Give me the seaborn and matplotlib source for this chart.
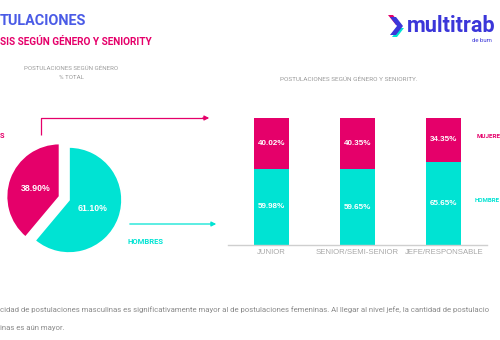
import matplotlib
matplotlib.use("Agg")
import matplotlib.pyplot as plt
import seaborn as sns
import pandas as pd
from matplotlib.patches import Polygon

# ---- data ----
pie_values = [61.10, 38.90]          # hombres, mujeres

categories = ["JUNIOR", "SENIOR/SEMI-SENIOR", "JEFE/RESPONSABLE"]
hombres = [59.98, 59.65, 65.65]
mujeres = [40.02, 40.35, 34.35]

title = "TULACIONES"
subtitle = "SIS SEGÚN GÉNERO Y SENIORITY"
pie_title = "POSTULACIONES SEGÚN GÉNERO\n% TOTAL"
bar_title = "POSTULACIONES SEGÚN GÉNERO Y SENIORITY."
footer1 = ("cidad de postulaciones masculinas es significativamente mayor al de postulaciones "
           "femeninas. Al llegar al nivel jefe, la cantidad de postulacio")
footer2 = "inas es aún mayor."

PINK = "#E5006A"
TEAL = "#00E3D3"
BLUE = "#4A5BE6"
LOGO = "#3B36D9"
GRAY = "#9a9a9a"

sns.set_theme(style="white")
plt.rcParams["font.family"] = ["DejaVu Sans"]

W, H = 500, 340
fig = plt.figure(figsize=(5, 3.4), dpi=100)
fig.patch.set_facecolor("white")

def fx(px):
    return px / W

def fy(py):  # image y (top origin) -> figure fraction
    return 1 - py / H

# overlay axes in pixel coordinates for decorations
ov = fig.add_axes([0, 0, 1, 1])
ov.set_xlim(0, W)
ov.set_ylim(H, 0)
ov.axis("off")
ov.patch.set_alpha(0)

RB = ["Roboto", "DejaVu Sans"]

# title / subtitle
fig.text(fx(0), fy(21), title, ha="left", va="center", color=BLUE,
         fontsize=10.4, fontweight="bold", family=RB)
fig.text(fx(0), fy(42), subtitle, ha="left", va="center", color=PINK,
         fontsize=7.2, fontweight="bold", family=RB)

# logo
ov.add_patch(Polygon([[388, 15], [393, 15], [401, 25], [396, 25]], closed=True,
                     facecolor=PINK, edgecolor="none"))
ov.add_patch(Polygon([[392, 37], [397, 37], [404, 28], [399, 28]], closed=True,
                     facecolor=TEAL, edgecolor="none"))
ov.add_patch(Polygon([[390, 17], [396, 17], [403, 26], [396, 35], [390, 35], [397, 26]],
                     closed=True, facecolor=LOGO, edgecolor="none"))
fig.text(fx(407), fy(32), "multitrab", ha="left", va="baseline", color=LOGO,
         fontsize=15.6, fontweight="bold", family=RB)
fig.text(fx(472), fy(42), "de bum", ha="left", va="baseline", color=LOGO,
         fontsize=4.3, family=RB)

# section titles
fig.text(fx(71), fy(73), pie_title, ha="center", va="center", color=GRAY,
         fontsize=4.4, linespacing=1.8, family=RB)
fig.text(fx(349), fy(79), bar_title, ha="center", va="center", color=GRAY,
         fontsize=4.6, family=RB)

# connector arrows
ov.plot([41, 41, 205], [135, 118, 118], color=PINK, lw=0.9, solid_capstyle="butt")
ov.annotate("", xy=(212, 118), xytext=(200, 118),
            arrowprops=dict(arrowstyle="-|>", color=PINK, lw=0.9, mutation_scale=7))
ov.annotate("", xy=(219, 224), xytext=(127, 224),
            arrowprops=dict(arrowstyle="-|>", color=TEAL, lw=0.9, mutation_scale=7))

# side labels
fig.text(fx(0), fy(136), "S", ha="left", va="center", color=PINK,
         fontsize=5.3, fontweight="bold", family=RB)
fig.text(fx(127), fy(242), "HOMBRES", ha="left", va="center", color=TEAL,
         fontsize=5.5, fontweight="bold", family=RB)
fig.text(fx(477), fy(137), "MUJERE", ha="left", va="center", color=PINK,
         fontsize=4.5, fontweight="bold", family=RB)
fig.text(fx(475), fy(201), "HOMBRE", ha="left", va="center", color=TEAL,
         fontsize=4.4, fontweight="bold", family=RB)

# ---- pie ----
pa = fig.add_axes([0, fy(270), fx(140), 140 / H])
wedges, texts, autotexts = pa.pie(
    pie_values, colors=[TEAL, PINK], startangle=90, counterclock=False,
    explode=[0, 0.19], autopct="%.2f%%", pctdistance=0.47,
    wedgeprops=dict(edgecolor="white", linewidth=1.2),
    textprops=dict(color="white", fontsize=6.3, fontweight="bold",
                   family=["Liberation Sans", "DejaVu Sans"]))
r = 53.0
pa.set_xlim(-69 / r, (140 - 69) / r)
pa.set_ylim(-70 / r, 70 / r)
pa.set_aspect("auto")
pa.axis("off")

# ---- stacked bars (seaborn) ----
df = pd.DataFrame({"cat": categories, "h": hombres, "m": mujeres})
df["total"] = df["h"] + df["m"]
ba = fig.add_axes([fx(228), fy(245), fx(487 - 228), 127 / H])
sns.barplot(data=df, x="cat", y="total", color=PINK, width=0.405, ax=ba,
            saturation=1, edgecolor="none")
sns.barplot(data=df, x="cat", y="h", color=TEAL, width=0.405, ax=ba,
            saturation=1, edgecolor="none")
ba.set_xlim(-0.5, 2.5)
ba.set_ylim(0, 100)
ba.set_xlabel("")
ba.set_ylabel("")
ba.set_yticks([])
for s in ["top", "right", "left"]:
    ba.spines[s].set_visible(False)
ba.spines["bottom"].set_color("#cfcfcf")
ba.spines["bottom"].set_linewidth(1)
ba.set_xticks(range(len(categories)))
ba.set_xticklabels(categories, color="#a8a8a8", fontsize=5.6,
                   family=["Liberation Sans", "DejaVu Sans"])
ba.tick_params(axis="x", which="major", length=0, pad=3)
ba.set_xticks([-0.5, 0.5, 1.5, 2.5], minor=True)
ba.tick_params(axis="x", which="minor", length=4, direction="inout", color="#cfcfcf", width=1)
ba.patch.set_alpha(0)

for i, (h, m) in enumerate(zip(hombres, mujeres)):
    ba.text(i, h / 2, f"{h:.2f}%", ha="center", va="center", color="white",
            fontsize=5.8, fontweight="bold", family=["Liberation Sans", "DejaVu Sans"])
    ba.text(i, h + m / 2, f"{m:.2f}%", ha="center", va="center", color="white",
            fontsize=5.8, fontweight="bold", family=["Liberation Sans", "DejaVu Sans"])

# footer
fig.text(fx(0), fy(310), footer1, ha="left", va="center", color="#8a8a8a",
         fontsize=5.6, family=RB)
fig.text(fx(0), fy(328), footer2, ha="left", va="center", color="#8a8a8a",
         fontsize=5.6, family=RB)

fig.savefig("out.png", dpi=100, facecolor="white")
